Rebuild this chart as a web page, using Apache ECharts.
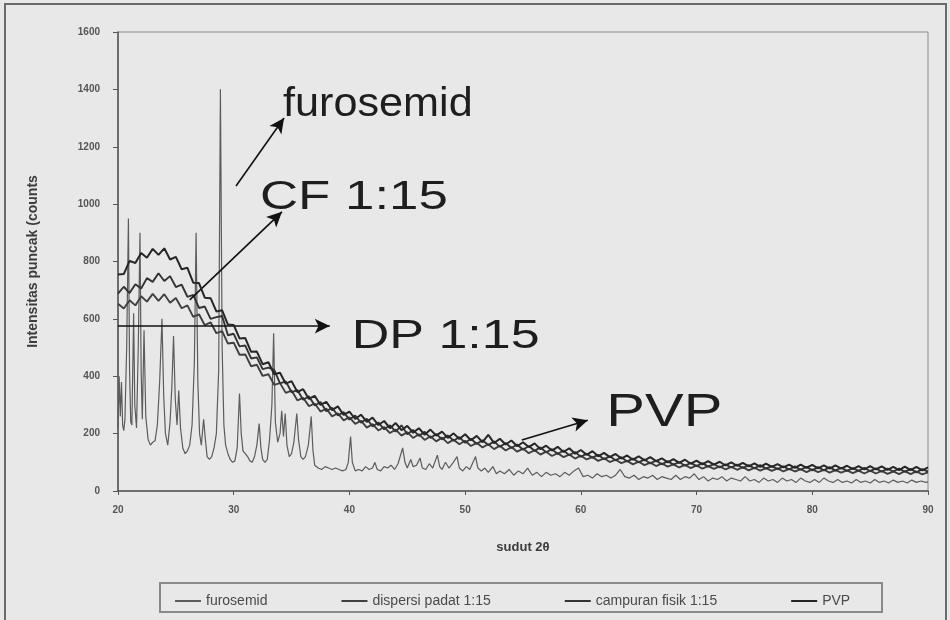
<!DOCTYPE html>
<html><head><meta charset="utf-8">
<script src="https://cdn.jsdelivr.net/npm/echarts@6/dist/echarts.min.js"></script>
<style>html,body{margin:0;padding:0;background:#e8e8e8}#c{width:950px;height:620px}</style>
</head><body><div id="c"></div><script>
// ---------- data ----------
const seriesNames = ['furosemid', 'dispersi padat 1:15', 'campuran fisik 1:15', 'PVP'];
const xAxisRange = [20, 90, 10];
const yAxisRange = [0, 1600, 200];
const xAxisTitle = 'sudut 2θ';
const yAxisTitle = 'Intensitas puncak (counts';

// furosemid: [2θ, counts]
const furosemidPattern = [
[20.0,220],[20.1,400],[20.2,260],[20.3,380],[20.4,230],[20.5,210],[20.6,250],[20.75,500],[20.9,950],[21.0,420],
[21.1,240],[21.2,230],[21.35,620],[21.45,300],[21.6,220],[21.75,500],[21.9,900],[22.0,420],[22.1,250],[22.25,560],
[22.4,260],[22.6,180],[22.8,160],[23.0,170],[23.2,175],[23.4,230],[23.6,380],[23.8,600],[23.95,330],[24.1,200],
[24.3,160],[24.5,240],[24.65,360],[24.8,540],[24.95,320],[25.1,230],[25.25,350],[25.4,220],[25.6,150],[25.8,130],
[26.0,140],[26.2,160],[26.4,230],[26.6,450],[26.75,900],[26.9,380],[27.05,200],[27.2,160],[27.4,250],[27.55,180],
[27.7,120],[27.9,110],[28.1,120],[28.3,150],[28.5,200],[28.7,420],[28.85,1400],[29.0,500],[29.15,230],[29.3,160],
[29.5,130],[29.7,110],[29.9,100],[30.1,105],[30.3,150],[30.5,340],[30.65,200],[30.8,140],[31.0,130],[31.2,120],
[31.4,105],[31.6,100],[31.8,120],[32.0,160],[32.2,235],[32.35,150],[32.5,110],[32.7,100],[32.9,110],[33.1,180],
[33.3,300],[33.45,550],[33.6,240],[33.8,170],[34.0,200],[34.15,280],[34.3,190],[34.45,270],[34.6,160],[34.8,120],
[35.0,130],[35.2,170],[35.45,270],[35.6,180],[35.8,120],[36.0,110],[36.2,120],[36.45,160],[36.7,260],[36.85,140],
[37.0,90],[37.3,80],[37.6,75],[37.9,85],[38.2,80],[38.5,75],[38.8,80],[39.1,75],[39.4,70],[39.7,75],
[39.9,100],[40.1,190],[40.25,100],[40.5,70],[40.8,75],[41.1,70],[41.4,85],[41.7,75],[42.0,80],[42.2,100],
[42.4,75],[42.7,70],[43.0,85],[43.3,80],[43.6,90],[43.9,75],[44.2,95],[44.6,150],[44.8,100],[45.0,80],
[45.3,110],[45.5,85],[45.8,90],[46.1,115],[46.3,80],[46.6,75],[46.9,95],[47.2,80],[47.6,125],[47.8,85],
[48.0,75],[48.3,100],[48.6,80],[48.9,95],[49.3,120],[49.5,80],[49.8,70],[50.1,85],[50.4,75],[50.9,120],
[51.1,80],[51.4,70],[51.7,80],[52.0,65],[52.4,85],[52.7,60],[53.0,70],[53.4,60],[53.8,75],[54.2,55],
[54.6,70],[55.0,60],[55.4,80],[55.8,55],[56.2,65],[56.6,50],[57.0,65],[57.4,55],[57.8,60],[58.2,50],
[58.6,65],[59.0,55],[59.4,70],[59.8,80],[60.2,50],[60.6,55],[61.0,45],[61.4,60],[61.8,50],[62.2,55],
[62.6,45],[63.0,55],[63.4,75],[63.8,50],[64.2,45],[64.6,55],[65.0,40],[65.4,50],[65.8,45],[66.2,55],
[66.6,40],[67.0,50],[67.4,45],[67.8,40],[68.2,55],[68.6,40],[69.0,50],[69.4,45],[69.8,60],[70.2,40],
[70.6,50],[71.0,35],[71.4,45],[71.8,40],[72.2,50],[72.6,35],[73.0,45],[73.4,40],[73.8,35],[74.2,50],
[74.6,35],[75.0,40],[75.4,30],[75.8,45],[76.2,35],[76.6,40],[77.0,30],[77.4,45],[77.8,35],[78.2,40],
[78.6,30],[79.0,45],[79.4,35],[79.8,30],[80.2,40],[80.6,30],[81.0,45],[81.4,35],[81.8,30],[82.2,40],
[82.6,30],[83.0,35],[83.4,28],[83.8,40],[84.2,30],[84.6,35],[85.0,28],[85.4,40],[85.8,30],[86.2,35],
[86.6,28],[87.0,38],[87.4,30],[87.8,35],[88.2,28],[88.6,38],[89.0,30],[89.4,35],[89.8,30],[90.0,32]
];

// broad patterns sampled every 0.5° from 20° to 90°
const broadStart = 20, broadStep = 0.5;
const dispersiCounts = [
653,636,665,647,679,660,687,663,686,656,673,637,647,607,616,578,588,550,557,514,
517,475,476,435,440,401,407,370,376,342,350,316,325,296,305,277,287,260,271,246,
257,234,245,221,233,211,223,202,214,193,205,185,198,178,191,173,186,167,179,163,
175,157,168,152,163,146,158,141,153,137,148,132,142,127,137,122,132,118,127,113,
123,110,118,105,114,101,109,97,105,93,102,90,99,87,96,85,93,82,91,80,
89,78,87,77,86,75,84,74,83,72,81,71,80,70,79,68,77,68,76,66,
75,66,74,64,73,64,72,62,71,61,71,61,70,60,68,59,69,59,68,58,65
];
const campuranCounts = [
688,712,690,721,706,742,729,759,732,749,711,719,677,684,638,643,600,606,610,543,
548,504,507,462,466,425,430,422,375,382,344,352,318,330,298,310,278,290,263,275,
249,263,238,252,225,239,215,229,207,229,198,213,192,206,185,199,180,194,175,188,
168,182,164,177,160,173,154,167,150,162,144,157,140,152,135,146,129,141,125,136,
119,130,116,126,111,121,107,118,103,113,100,110,96,106,93,104,92,101,88,98,
87,97,85,94,82,93,82,92,80,90,79,90,78,87,76,86,75,86,74,84,
72,83,72,83,71,81,70,80,70,81,69,79,67,78,68,78,67,77,65,76,68
];
const pvpCounts = [
755,756,802,795,830,813,844,823,846,807,816,773,778,726,725,674,672,626,630,580,
579,532,533,485,486,442,449,407,412,374,383,345,355,321,332,300,311,282,295,265,
277,251,266,241,256,230,244,219,237,212,227,203,219,196,214,193,207,185,201,181,
198,177,192,170,196,167,182,162,176,156,170,153,166,146,158,141,154,136,149,130,
143,126,139,121,133,118,129,113,124,109,121,107,118,104,114,100,111,98,109,95,
106,93,104,92,102,89,100,88,98,86,96,84,95,84,94,82,92,81,92,81,
91,79,89,78,89,78,88,76,87,75,87,75,86,74,84,73,85,73,84,72,82
];

// annotations (data coordinates)
const annotationTexts = ['furosemid', 'CF 1:15', 'DP 1:15', 'PVP'];
const annotationAnchors = [[34.26, 1347], [32.27, 1021], [40.2, 537], [62.2, 272]];
const arrowStarts = [[30.2, 1063], [26.2, 666], [20.0, 575], [54.9, 178]];
const arrowEnds = [[34.35, 1300], [34.17, 973], [38.3, 575], [60.6, 247]];

// ---------- build ----------
const toPairs = (counts) => counts.map((c, i) => [broadStart + i * broadStep, c]);
const seriesData = [furosemidPattern, toPairs(dispersiCounts), toPairs(campuranCounts), toPairs(pvpCounts)];
const seriesColors = ['#5c5c5c', '#404040', '#333333', '#262626'];
const seriesWidths = [1.2, 1.9, 1.9, 2.0];

const chart = echarts.init(document.getElementById('c'), null, { renderer: 'canvas' });
const FONT = '"Liberation Sans", Arial, sans-serif';

const option = {
  animation: false,
  backgroundColor: '#e8e8e8',
  grid: { left: 118, right: 22, top: 32, bottom: 129, show: true, borderColor: '#8a8a8a', borderWidth: 1, backgroundColor: 'transparent' },
  xAxis: {
    type: 'value', min: xAxisRange[0], max: xAxisRange[1], interval: xAxisRange[2],
    name: xAxisTitle, nameLocation: 'middle', nameGap: 50,
    nameTextStyle: { fontFamily: FONT, fontWeight: 'bold', fontSize: 13, color: '#3c3c3c' },
    axisLine: { onZero: false, lineStyle: { color: '#555', width: 1.5 } },
    axisTick: { show: true, length: 4, lineStyle: { color: '#555' } },
    axisLabel: { margin: 14, fontFamily: FONT, fontWeight: 'bold', fontSize: 10, color: '#555', formatter: v => String(v) },
    splitLine: { show: false }
  },
  yAxis: {
    type: 'value', min: yAxisRange[0], max: yAxisRange[1], interval: yAxisRange[2],
    name: yAxisTitle, nameLocation: 'middle', nameGap: 78,
    nameTextStyle: { fontFamily: FONT, fontWeight: 'bold', fontSize: 14, color: '#3c3c3c' },
    axisLine: { show: true, lineStyle: { color: '#555', width: 1.5 } },
    axisTick: { show: true, length: 5, lineStyle: { color: '#555' } },
    axisLabel: { margin: 18, fontFamily: FONT, fontWeight: 'bold', fontSize: 10, color: '#555', formatter: v => String(v) },
    splitLine: { show: false }
  },
  legend: {
    left: 170, top: 589, itemGap: 74, itemWidth: 26, itemHeight: 2, icon: 'rect',
    data: seriesNames,
    textStyle: { fontFamily: FONT, fontSize: 14, color: '#4a4a4a' }
  },
  series: seriesNames.map((n, i) => ({
    name: n, type: 'line', data: seriesData[i], showSymbol: false, symbol: 'none',
    sampling: null, silent: true,
    lineStyle: { color: seriesColors[i], width: seriesWidths[i] },
    itemStyle: { color: seriesColors[i] },
    z: 2 + i
  })).concat([{
    name: 'arrows', type: 'line', data: [], silent: true,
    markLine: {
      silent: true, symbol: ['none', 'arrow'], symbolSize: [11, 15], label: { show: false },
      lineStyle: { color: '#111', width: 1.6, type: 'solid' },
      data: arrowStarts.map((s, i) => [{ coord: s }, { coord: arrowEnds[i] }])
    },
    z: 10
  }])
};
chart.setOption(option);

const textSizes = [40, 40, 40, 46];
const textScales = [1.08, 1.32, 1.3, 1.26];
const graphics = [
  { type: 'rect', shape: { x: 5, y: 4, width: 941, height: 620 }, style: { fill: 'none', stroke: '#6a6a6a', lineWidth: 2 }, z: 0, silent: true },
  { type: 'rect', shape: { x: 160, y: 583, width: 722, height: 29 }, style: { fill: 'none', stroke: '#8a8a8a', lineWidth: 2 }, z: 0, silent: true }
];
annotationTexts.forEach((t, i) => {
  const p = chart.convertToPixel({ gridIndex: 0 }, annotationAnchors[i]);
  graphics.push({
    type: 'text', x: p[0], y: p[1], scaleX: textScales[i], originX: 0, originY: 0, z: 20, silent: true,
    style: { text: t, fill: '#1e1e1e', font: textSizes[i] + 'px ' + FONT, textAlign: 'left', textVerticalAlign: 'middle' }
  });
});
chart.setOption({ graphic: graphics });
</script></body></html>
